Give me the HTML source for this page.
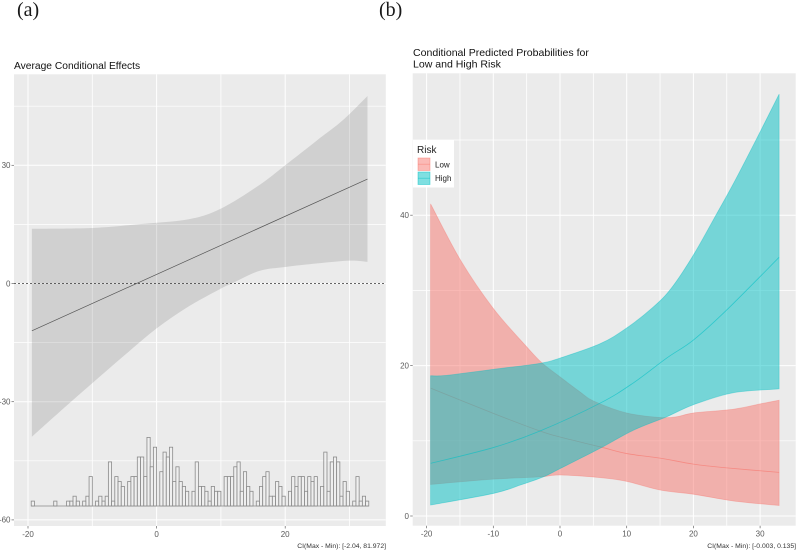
<!DOCTYPE html>
<html lang="en">
<head>
<meta charset="utf-8">
<title>Average Conditional Effects and Conditional Predicted Probabilities</title>
<style>
html,body{margin:0;padding:0;background:#fff;width:800px;height:554px;overflow:hidden}
svg{display:block;filter:blur(0.35px)}
text{font-family:"Liberation Sans",sans-serif}
</style>
</head>
<body>
<svg id="figure" xmlns="http://www.w3.org/2000/svg" width="800" height="554" viewBox="0 0 800 554">
  <rect x="0" y="0" width="800" height="554" fill="#ffffff"/>
  <text x="17" y="16" font-size="20" fill="#1a1a1a" style="font-family:'Liberation Serif',serif">(a)</text>
  <text x="379" y="16" font-size="20" fill="#1a1a1a" style="font-family:'Liberation Serif',serif">(b)</text>
  <g id="chartA"></g>
  <g id="chartB"></g>
  <text x="14" y="69" font-size="10.25" fill="#111">Average Conditional Effects</text>
  <text x="413" y="56" font-size="10.55" fill="#111">Conditional Predicted Probabilities for</text>
  <text x="413" y="67.5" font-size="10.55" fill="#111">Low and High Risk</text>
  <text x="386" y="548" font-size="6.8" text-anchor="end" fill="#333">CI(Max - Min): [-2.04, 81.972]</text>
  <text x="796" y="548" font-size="6.8" text-anchor="end" fill="#333">CI(Max - Min): [-0.003, 0.135]</text>
  <g id="legend">
    <rect x="413" y="140" width="41" height="47.5" fill="#ffffff"/>
    <text x="417" y="153" font-size="10" fill="#222">Risk</text>
    <g>
      <rect x="418" y="158" width="12" height="12.5" fill="#F8766D" fill-opacity="0.5" stroke="#F8766D" stroke-opacity="0.6" stroke-width="0.7"/>
      <line x1="418" x2="430" y1="164.2" y2="164.2" stroke="#F8766D" stroke-opacity="0.6" stroke-width="0.7"/>
      <text x="435" y="167.5" font-size="8" fill="#222">Low</text>
    </g>
    <g>
      <rect x="418" y="172" width="12" height="12.5" fill="#00BFC4" fill-opacity="0.5" stroke="#00BFC4" stroke-opacity="0.6" stroke-width="0.7"/>
      <line x1="418" x2="430" y1="178.2" y2="178.2" stroke="#00BFC4" stroke-opacity="0.6" stroke-width="0.7"/>
      <text x="435" y="181" font-size="8" fill="#222">High</text>
    </g>
  </g>
</svg>
<script>
// ---------- Chart A data ----------
const aXTicks = [-20, 0, 20];
const aXMinor = [-10, 10, 30];
const aYTicks = [-60, -30, 0, 30];
const aYMinor = [-45, -15, 15, 45];
const aUpperX = [-19.4, -10, -2.4, 5, 10, 16, 20, 25, 29, 32.8];
const aUpperY = [13.9, 14.1, 15.1, 16.3, 19, 25, 30, 36.4, 41.5, 47.6];
const aLowerX = [-19.4, -15.3, -10, -4.9, 0, 4.9, 10.1, 11.7, 16, 20, 25, 30, 32.8];
const aLowerY = [-38.9, -32.9, -25.3, -18.1, -11.4, -5.9, -1.2, 0, 3.2, 4.2, 5.1, 5.8, 5.5];
const aLineX = [-19.4, 32.8];
const aLineY = [-12, 26.5];
const histStart = -19.5;
const histBinWidth = 0.5;
const histCounts = [1,0,0,0,0,0,0,1,0,0,0,1,1,2,1,0,1,2,6,0,1,2,1,2,9,1,6,5,4,0,5,6,6,10,10,6,14,8,12,0,7,11,10,12,5,8,5,4,3,0,3,9,4,4,3,1,4,3,3,0,6,6,6,8,9,3,7,4,3,0,1,4,6,7,2,2,5,4,2,0,3,6,4,6,6,3,6,5,6,0,4,11,3,9,10,9,2,5,3,0,1,6,1,2,1];

// ---------- Chart B data ----------
const bXTicks = [-20, -10, 0, 10, 20, 30];
const bXMinor = [-15, -5, 5, 15, 25];
const bYTicks = [0, 20, 40];
const bYMinor = [10, 30, 50];
const lowUpperX = [-19.4, -14.9, -10, -5, -2.75, -0.3, 3, 5, 10, 15, 17.5, 20, 26, 30, 32.85];
const lowUpperY = [41.5, 34, 27.6, 22.5, 20.4, 18.7, 16.5, 15.3, 13.7, 13.1, 13.2, 13.7, 14.2, 14.9, 15.4];
const lowLowerX = [-19.4, -10, -3, 0, 6, 10, 15, 20, 26, 32.85];
const lowLowerY = [4.2, 4.9, 5.2, 5.45, 5.1, 4.6, 3.46, 2.9, 2, 1.4];
const lowMeanX = [-19.4, -10, -3, 0, 6, 10, 15, 20, 25, 32.85];
const lowMeanY = [17, 13.65, 11.3, 10.5, 9.2, 8.3, 7.7, 6.9, 6.4, 5.8];
const highUpperX = [-19.4, -17, -10, -3, 0, 6, 10, 14, 16.7, 20, 23.5, 26, 29.5, 32.85];
const highUpperY = [18.65, 18.7, 19.5, 20.3, 21, 22.9, 25, 27.8, 30.3, 34.7, 40.2, 44.2, 50.2, 56.1];
const highLowerX = [-19.4, -10, -6, -2.5, 0, 6, 11, 16, 20, 26, 32.85];
const highLowerY = [1.46, 3, 4.1, 5.2, 6.3, 9, 11.4, 13.2, 14.8, 16.4, 16.9];
const highMeanX = [-19.4, -10, -3, 6, 11, 16, 20, 25, 32.85];
const highMeanY = [7, 9.1, 11.3, 15, 17.7, 21, 23.4, 27.4, 34.4];

const NS = 'http://www.w3.org/2000/svg';
function mk(parent, tag, attrs, txt){
  const e = document.createElementNS(NS, tag);
  for (const k in attrs) e.setAttribute(k, attrs[k]);
  if (txt !== undefined) e.textContent = txt;
  parent.appendChild(e);
  return e;
}
function screen(xs, ys, sx, sy){
  return xs.map((v, i) => [sx(v), sy(ys[i])]);
}
// Smooth path segments through screen points (Catmull-Rom to cubic Bezier)
function smooth(p){
  let d = '';
  for (let i = 0; i < p.length - 1; i++){
    const p0 = p[Math.max(0, i - 1)], p1 = p[i], p2 = p[i + 1], p3 = p[Math.min(p.length - 1, i + 2)];
    const c1x = p1[0] + (p2[0] - p0[0]) / 6, c1y = p1[1] + (p2[1] - p0[1]) / 6;
    const c2x = p2[0] - (p3[0] - p1[0]) / 6, c2y = p2[1] - (p3[1] - p1[1]) / 6;
    d += ' C' + c1x.toFixed(2) + ' ' + c1y.toFixed(2) + ' ' + c2x.toFixed(2) + ' ' + c2y.toFixed(2) + ' ' + p2[0].toFixed(2) + ' ' + p2[1].toFixed(2);
  }
  return d;
}
function linePath(xs, ys, sx, sy){
  const p = screen(xs, ys, sx, sy);
  return 'M' + p[0][0].toFixed(2) + ' ' + p[0][1].toFixed(2) + smooth(p);
}
function ribbonPath(xu, yu, xl, yl, sx, sy){
  const u = screen(xu, yu, sx, sy);
  const l = screen(xl, yl, sx, sy).reverse();
  return 'M' + u[0][0].toFixed(2) + ' ' + u[0][1].toFixed(2) + smooth(u) +
         ' L' + l[0][0].toFixed(2) + ' ' + l[0][1].toFixed(2) + smooth(l) + ' Z';
}

// ---------- Axis functions ----------
const ax = v => 156.6 + 6.43 * v;
const ay = v => 283.5 - 3.94 * v;
const bx = v => 560 + 6.67 * v;
const by = v => 516 - 7.52 * v;

function frame(g, box, sx, sy, xT, xM, yT, yM, yLabelX){
  const bg = mk(g, 'rect', {x: box.l, y: box.t, width: box.r - box.l, height: box.b - box.t, fill: '#ebebeb'});
  
  
  xM.forEach(v => {
    const l = mk(g, 'line', {x1: sx(v), x2: sx(v), y1: box.t, y2: box.b, stroke: '#fff', 'stroke-width': 0.8});
    
    
  });
  yM.forEach(v => {
    const l = mk(g, 'line', {x1: box.l, x2: box.r, y1: sy(v), y2: sy(v), stroke: '#fff', 'stroke-width': 0.7});
    
    
  });
  xT.forEach(v => {
    const l = mk(g, 'line', {x1: sx(v), x2: sx(v), y1: box.t, y2: box.b, stroke: '#fff', 'stroke-width': 1});
    
    
    const t = mk(g, 'line', {x1: sx(v), x2: sx(v), y1: box.b, y2: box.b + 2.5, stroke: '#666', 'stroke-width': 0.7});
    
    
    const s = mk(g, 'text', {x: sx(v), y: box.b + 11, 'font-size': 8, 'text-anchor': 'middle', fill: '#5a5a5a'}, String(v));
    
    
  });
  yT.forEach(v => {
    const l = mk(g, 'line', {x1: box.l, x2: box.r, y1: sy(v), y2: sy(v), stroke: '#fff', 'stroke-width': 1});
    
    
    const t = mk(g, 'line', {x1: box.l - 2.5, x2: box.l, y1: sy(v), y2: sy(v), stroke: '#666', 'stroke-width': 0.7});
    
    
    const s = mk(g, 'text', {x: yLabelX, y: sy(v) + 2.8, 'font-size': 8, 'text-anchor': 'end', fill: '#5a5a5a'}, String(v));
    
    
  });
}

// ---------- Chart A ----------
const gA = document.getElementById('chartA');
frame(gA, {l: 14, r: 385.8, t: 74.3, b: 526}, ax, ay, aXTicks, aXMinor, aYTicks, aYMinor, 10.5);

const aRibbon = mk(gA, 'path', {d: ribbonPath(aUpperX, aUpperY, aLowerX, aLowerY, ax, ay), fill: '#333333', 'fill-opacity': 0.15});



const aLine = mk(gA, 'path', {d: linePath(aLineX, aLineY, ax, ay), fill: 'none', stroke: '#555', 'stroke-width': 0.7});



const zero = mk(gA, 'line', {x1: 14, x2: 385.8, y1: ay(0), y2: ay(0), stroke: '#333', 'stroke-width': 0.7, 'stroke-dasharray': '2 2'});



const histY0 = 506;
const histUnit = 4.9;
const histG = mk(gA, 'g', {});


const histBase = mk(histG, 'line', {x1: ax(histStart), x2: ax(histStart + histCounts.length * histBinWidth), y1: histY0, y2: histY0, stroke: '#8a8a8a', 'stroke-width': 0.8});


histCounts.forEach((c, i) => {
  if (!c) return;
  const x0 = ax(histStart + i * histBinWidth);
  const x1 = ax(histStart + (i + 1) * histBinWidth);
  const bar = mk(histG, 'rect', {
    x: x0.toFixed(2), y: (histY0 - c * histUnit).toFixed(2),
    width: (x1 - x0).toFixed(2), height: (c * histUnit).toFixed(2),
    fill: '#f2f2f2', 'fill-opacity': 0.6, stroke: '#8a8a8a', 'stroke-width': 0.8
  });
  
  
});

// ---------- Chart B ----------
const gB = document.getElementById('chartB');
frame(gB, {l: 412.7, r: 795.7, t: 73.3, b: 525.7}, bx, by, bXTicks, bXMinor, bYTicks, bYMinor, 409);

const lowBand = mk(gB, 'path', {d: ribbonPath(lowUpperX, lowUpperY, lowLowerX, lowLowerY, bx, by), fill: '#F8766D', 'fill-opacity': 0.5, stroke: '#F8766D', 'stroke-opacity': 0.4, 'stroke-width': 0.8});



const lowLine = mk(gB, 'path', {d: linePath(lowMeanX, lowMeanY, bx, by), fill: 'none', stroke: '#F8766D', 'stroke-opacity': 0.65, 'stroke-width': 0.8});



const highBand = mk(gB, 'path', {d: ribbonPath(highUpperX, highUpperY, highLowerX, highLowerY, bx, by), fill: '#00BFC4', 'fill-opacity': 0.5, stroke: '#00BFC4', 'stroke-opacity': 0.4, 'stroke-width': 0.8});



const highLine = mk(gB, 'path', {d: linePath(highMeanX, highMeanY, bx, by), fill: 'none', stroke: '#00BFC4', 'stroke-opacity': 0.6, 'stroke-width': 0.8});


</script>
</body>
</html>
